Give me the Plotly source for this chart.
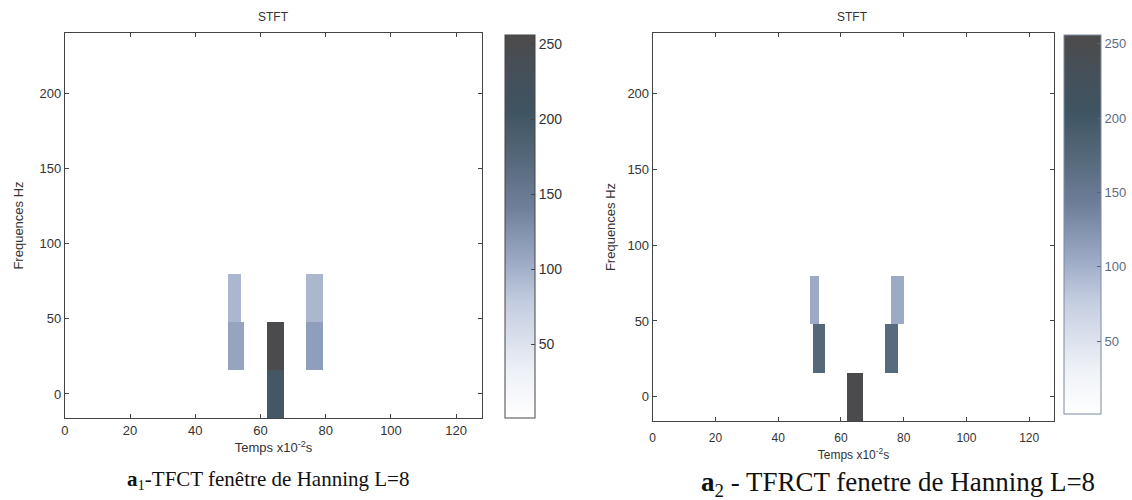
import numpy as np
import plotly.graph_objects as go

# Frequency bins (Hz) of the short-time transform, 8 bins for L=8
freq_hz = [0, 32, 64, 96, 128, 160, 192, 224]
n_time = 128
time_centers = [t + 0.5 for t in range(n_time)]

# Energy blocks, one entry per block: frequency bin, first / last time sample, level
tfct_freq = [0, 32, 32, 32, 64, 64]
tfct_t0 = [62, 50, 62, 74, 50, 74]
tfct_t1 = [67, 55, 67, 79, 54, 79]
tfct_level = [200, 110, 250, 115, 95, 95]

tfrct_freq = [0, 32, 32, 64, 64]
tfrct_t0 = [62, 51, 74, 50, 76]
tfrct_t1 = [67, 55, 78, 53, 80]
tfrct_level = [250, 175, 170, 105, 105]

x_ticks = [0, 20, 40, 60, 80, 100, 120]
y_ticks = [0, 50, 100, 150, 200]
cbar_ticks = [50, 100, 150, 200, 250]

z_floor, z_ceil = 1, 256


def build_grid(freqs, t0s, t1s, levels):
    z = np.full((len(freq_hz), n_time), float(z_floor))
    for f, a, b, v in zip(freqs, t0s, t1s, levels):
        z[freq_hz.index(f), a:b] = v
    return z


z_left = build_grid(tfct_freq, tfct_t0, tfct_t1, tfct_level)
z_right = build_grid(tfrct_freq, tfrct_t0, tfrct_t1, tfrct_level)

colorscale = [
    [0.00, "#ffffff"],
    [0.12, "#eef1f7"],
    [0.30, "#c3cde0"],
    [0.42, "#98a6c2"],
    [0.55, "#6f7f9a"],
    [0.68, "#55687a"],
    [0.80, "#3f5461"],
    [0.90, "#45505a"],
    [1.00, "#4d4a4a"],
]

W, H = 1132, 500


def px(x):
    return x / W


def py(y):
    return 1 - y / H


sans = "Liberation Sans, Arial, sans-serif"
serif = "Liberation Serif, Times New Roman, serif"
ink = "#333333"

fig = go.Figure()

fig.add_trace(go.Heatmap(
    z=z_left, x=time_centers, y=freq_hz, xaxis="x", yaxis="y",
    zmin=z_floor, zmax=z_ceil, colorscale=colorscale, zsmooth=False,
    colorbar=dict(
        x=px(503), xanchor="left", y=py(226.5), yanchor="middle",
        len=383, lenmode="pixels", thickness=30, thicknessmode="pixels",
        xpad=0, ypad=0, outlinecolor="#444444", outlinewidth=1,
        tickvals=cbar_ticks, ticks="inside", ticklen=4, tickcolor="#444444",
        tickfont=dict(family=sans, size=14, color=ink),
    ),
))

fig.add_trace(go.Heatmap(
    z=z_right, x=time_centers, y=freq_hz, xaxis="x2", yaxis="y2",
    zmin=z_floor, zmax=z_ceil, colorscale=colorscale, zsmooth=False,
    colorbar=dict(
        x=px(1064), xanchor="left", y=py(224.5), yanchor="middle",
        len=379, lenmode="pixels", thickness=37, thicknessmode="pixels",
        xpad=0, ypad=0, outlinecolor="#7a8aa0", outlinewidth=1,
        tickvals=cbar_ticks, ticks="inside", ticklen=4, tickcolor="#55657a",
        tickfont=dict(family=sans, size=13, color="#5a6b82"),
    ),
))

axis_common = dict(
    showgrid=False, zeroline=False, showline=True, linecolor="#444444",
    linewidth=1, mirror="ticks", ticks="inside", ticklen=4,
    tickcolor="#444444", tickfont=dict(family=sans, size=13, color=ink),
)

fig.update_layout(
    width=W, height=H,
    margin=dict(l=0, r=0, t=0, b=0),
    paper_bgcolor="white", plot_bgcolor="white",
    showlegend=False,
    xaxis=dict(
        axis_common, domain=[px(61), px(480)], range=[0, 128],
        tickvals=x_ticks, anchor="y",
        title=dict(text="Temps x10<sup>-2</sup>s", standoff=6,
                   font=dict(family=sans, size=13, color=ink)),
    ),
    yaxis=dict(
        axis_common, domain=[py(418), py(33)], range=[-16, 240],
        tickvals=y_ticks, anchor="x",
        title=dict(text="Frequences Hz", standoff=12,
                   font=dict(family=sans, size=13, color=ink)),
    ),
    xaxis2=dict(
        axis_common, domain=[px(651), px(1054)], range=[0, 128],
        tickvals=x_ticks, anchor="y2", ticklabelstandoff=6,
        title=dict(text="Temps x10<sup>-2</sup>s", standoff=6,
                   font=dict(family=sans, size=12, color=ink)),
    ),
    yaxis2=dict(
        axis_common, domain=[py(421), py(33)], range=[-16, 240],
        tickvals=y_ticks, anchor="x2",
        title=dict(text="Frequences Hz", standoff=8,
                   font=dict(family=sans, size=13, color=ink)),
    ),
)

fig.update_xaxes(tickfont=dict(size=12), selector=dict(anchor="y2"))

annotations = [
    dict(text="STFT", x=px(270), y=py(17), font=dict(family=sans, size=12, color=ink)),
    dict(text="STFT", x=px(852), y=py(17), font=dict(family=sans, size=12, color=ink)),
    dict(text="<b>a</b><sub>1</sub>-TFCT fenêtre de Hanning L=8",
         x=px(265), y=py(480), font=dict(family=serif, size=21, color="#111111")),
    dict(text="<b>a</b><sub>2</sub> - TFRCT fenetre de Hanning L=8",
         x=px(897), y=py(484), font=dict(family=serif, size=27, color="#111111")),
]
for a in annotations:
    a.update(xref="paper", yref="paper", showarrow=False,
             xanchor="center", yanchor="middle")
fig.update_layout(annotations=annotations)

fig.write_html("out.html")
